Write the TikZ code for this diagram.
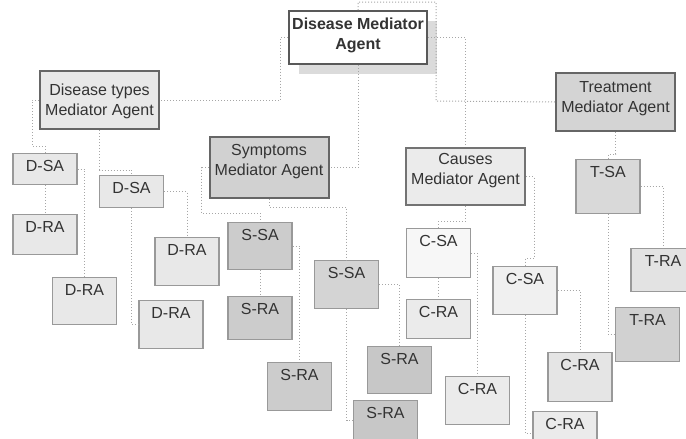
\documentclass[tikz,border=0pt]{standalone}
\usepackage{fontspec}
\setmainfont{Liberation Sans}
\usetikzlibrary{shadows}
\tikzset{
  mediator/.style={draw=black!60,line width=1pt,align=center,minimum width=59.5pt,
    inner xsep=0pt,inner ysep=0pt,text=black!80,anchor=north},
  agentbox/.style={draw=black!40,line width=0.6pt,minimum width=32pt,anchor=north,
    inner xsep=0pt,inner ysep=0pt,text height=9pt,text=black!80},
  dfill/.style={agentbox,fill=black!9},
  sfill/.style={agentbox,fill=black!20},
  cfill/.style={agentbox,fill=black!8},
  tfill/.style={agentbox,fill=black!15},
  link/.style={draw=black!35,densely dotted,line width=0.5pt}
}
\begin{document}
\begin{tikzpicture}[x=0.5pt,y=-0.5pt,font=\fontsize{8}{10}\selectfont]
\useasboundingbox (0,0) rectangle (686,439);
% mediator agents
\node[mediator,fill=white,draw=black!65,minimum width=69pt,text height=19pt,text depth=7.5pt,
  font=\fontsize{8}{10}\selectfont\bfseries,
  drop shadow={shadow xshift=5pt,shadow yshift=-5pt,fill=black,opacity=0.14}]
  (dma) at (358,10) {Disease Mediator\\Agent};
\node[mediator,fill=black!9,text height=22.2pt,text depth=6.8pt] (dtypes) at (99.5,70) {Disease types\\Mediator Agent};
\node[mediator,fill=black!18,text height=19.2pt,text depth=11.3pt] (symp) at (269,136) {Symptoms\\Mediator Agent};
\node[mediator,fill=black!8,draw=black!55,text height=18.2pt,text depth=10.3pt] (causes) at (465.5,147) {Causes\\Mediator Agent};
\node[mediator,fill=black!17,text height=19.7pt,text depth=9.3pt] (treat) at (615.5,72) {Treatment\\Mediator Agent};
% disease types agents
\node[dfill,text depth=6.5pt] (dsa1) at (45,153) {D-SA};
\node[dfill,text depth=11pt] (dra1) at (45,214) {D-RA};
\node[dfill,text depth=14.5pt] (dra2) at (84.5,277) {D-RA};
\node[dfill,text depth=7pt] (dsa2) at (131.5,175) {D-SA};
\node[dfill,text depth=15pt] (dra3) at (187,237) {D-RA};
\node[dfill,text depth=15pt] (dra4) at (171,300) {D-RA};
% symptoms agents
\node[sfill,text depth=14.5pt] (ssa1) at (260,222) {S-SA};
\node[sfill,text depth=12.5pt] (sra1) at (260,296) {S-RA};
\node[sfill,text depth=15pt] (sra2) at (299.5,362) {S-RA};
\node[sfill,fill=black!17,text depth=15pt] (ssa2) at (346.5,260) {S-SA};
\node[sfill,fill=black!22,text depth=14.5pt] (sra3) at (399.5,346) {S-RA};
\node[sfill,fill=black!22,text depth=11pt] (sra4) at (385.5,400) {S-RA};
% causes agents
\node[cfill,fill=black!3,text depth=15.5pt] (csa1) at (438.5,228) {C-SA};
\node[cfill,text depth=10.5pt] (cra1) at (438.5,299) {C-RA};
\node[cfill,text depth=15pt] (cra2) at (477.5,376) {C-RA};
\node[cfill,fill=black!6,text depth=15pt] (csa2) at (525,266) {C-SA};
\node[cfill,fill=black!10,text depth=15.5pt] (cra3) at (580,352) {C-RA};
\node[cfill,text depth=13pt] (cra4) at (565,411) {C-RA};
% treatment agents
\node[tfill,text depth=18pt] (tsa) at (608,159) {T-SA};
\node[tfill,fill=black!11,text depth=12.5pt] (tra1) at (663,248) {T-RA};
\node[tfill,fill=black!18,text depth=18pt] (tra2) at (647.5,307) {T-RA};
% links
\draw[link] (dma.west) -- ++(-8,0) |- (dtypes.east);
\draw[link] (dma.north) -- ++(0,-8) -| (436,101) -- (treat.west);
\draw[link] (dma.east) -| (causes.north);
\draw[link] (dma.south) |- (symp.east);
\draw[link] (dtypes.west) -- ++(-7,0) |- (45,146) -- (dsa1.north);
\draw[link] (dtypes.south) -- ++(0,40) -| (dsa2.north);
\draw[link] (dsa1.south) -- (dra1.north);
\draw[link] (dsa1.east) -| (dra2.north);
\draw[link] (dsa2.east) -| (dra3.north);
\draw[link] (dsa2.south) |- (dra4.west);
\draw[link] (symp.west) -- ++(-7,0) |- (260,213) -- (ssa1.north);
\draw[link] (symp.south) -- ++(0,8) -| (ssa2.north);
\draw[link] (ssa1.south) -- (sra1.north);
\draw[link] (ssa1.east) -| (sra2.north);
\draw[link] (ssa2.east) -| (sra3.north);
\draw[link] (ssa2.south) |- (sra4.west);
\draw[link] (causes.south) -- ++(0,15) -| (csa1.north);
\draw[link] (causes.east) -- ++(8,0) |- (525,258) -- (csa2.north);
\draw[link] (csa1.south) -- (cra1.north);
\draw[link] (csa1.east) -| (cra2.north);
\draw[link] (csa2.east) -| (cra3.north);
\draw[link] (csa2.south) |- (cra4.west);
\draw[link] (treat.south) -- ++(0,22) -| (tsa.north);
\draw[link] (tsa.east) -| (tra1.north);
\draw[link] (tsa.south) |- (tra2.west);
\end{tikzpicture}
\end{document}
